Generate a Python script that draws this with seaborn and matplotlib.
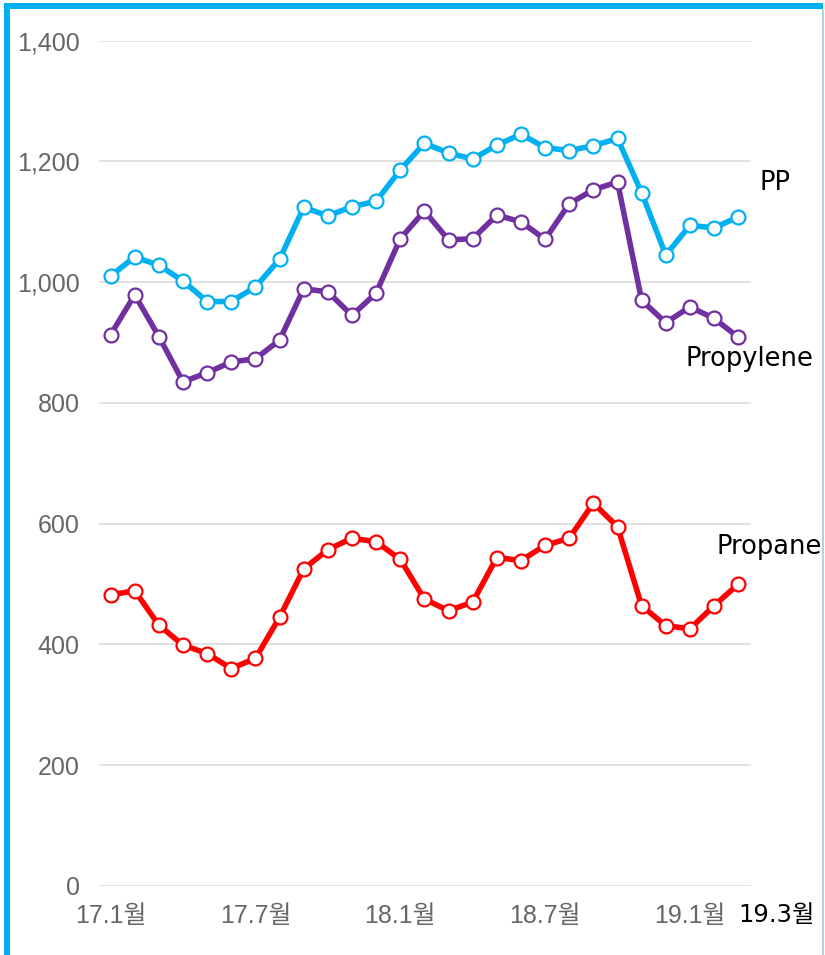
import matplotlib
matplotlib.use("Agg")
import matplotlib.pyplot as plt
import seaborn as sns
import pandas as pd
from matplotlib.patches import Rectangle
from matplotlib.ticker import FuncFormatter
import matplotlib.transforms as mtransforms

months = ["17.1", "17.2", "17.3", "17.4", "17.5", "17.6", "17.7", "17.8", "17.9",
          "17.10", "17.11", "17.12", "18.1", "18.2", "18.3", "18.4", "18.5", "18.6",
          "18.7", "18.8", "18.9", "18.10", "18.11", "18.12", "19.1", "19.2", "19.3"]
pp = [1010, 1042, 1028, 1002, 968, 968, 992, 1038, 1124, 1110, 1125, 1134, 1186,
      1230, 1214, 1204, 1227, 1245, 1223, 1218, 1226, 1238, 1148, 1045, 1094, 1090, 1108]
propylene = [913, 979, 910, 835, 850, 868, 873, 904, 989, 984, 945, 982, 1072,
             1118, 1070, 1072, 1111, 1100, 1071, 1130, 1153, 1166, 970, 933, 959, 940, 909]
propane = [482, 489, 432, 399, 385, 360, 377, 445, 525, 557, 576, 570, 541,
           475, 456, 470, 544, 539, 564, 576, 634, 595, 464, 431, 426, 464, 500]
tick_labels = ["17.1월", "17.7월", "18.1월", "18.7월", "19.1월"]
tick_idx = [0, 6, 12, 18, 24]
last_label = "19.3월"

sns.set_theme(style="white")
plt.rcParams['font.family'] = ['Liberation Sans', 'Noto Sans CJK KR', 'DejaVu Sans']

fig = plt.figure(figsize=(8.25, 9.55), dpi=100)
ax = fig.add_axes([0.12, 0.0723, 0.79, 0.8851])

df = pd.DataFrame({"idx": range(len(months)), "PP": pp,
                   "Propylene": propylene, "Propane": propane})
colors = {"Propane": "#FF0000", "Propylene": "#7030A0", "PP": "#00B0F0"}
for name in ["Propane", "Propylene", "PP"]:
    sns.lineplot(data=df, x="idx", y=name, ax=ax, color=colors[name],
                 linewidth=4.0, marker="o", markersize=10,
                 markerfacecolor="white", markeredgecolor=colors[name],
                 markeredgewidth=1.6, clip_on=False, zorder=3)

ax.set_xlim(-0.48, 26.52)
ax.set_ylim(0, 1400)
ax.set_yticks(range(0, 1401, 200))
ax.yaxis.set_major_formatter(FuncFormatter(lambda v, p: f"{int(v):,}"))
ax.set_xticks(tick_idx)
ax.set_xticklabels(tick_labels)
ax.grid(axis="y", color="#D9D9D9", linewidth=1.1)
ax.set_axisbelow(True)
for s in ax.spines.values():
    s.set_visible(False)
ax.tick_params(axis="both", length=0, labelsize=18, labelcolor="#666666")
ax.tick_params(axis="y", pad=14)
ax.tick_params(axis="x", pad=13)
ax.set_xlabel("")
ax.set_ylabel("")

trans = mtransforms.blended_transform_factory(ax.transData, ax.transAxes)
ax.text(27.6, -0.0346, last_label, transform=trans, ha="center", va="center",
        fontsize=17.5, color="black", family=['DejaVu Sans', 'Noto Sans CJK KR'],
        clip_on=False)

lab_font = dict(fontsize=18.5, color="black", family=['DejaVu Sans'], va="center",
                ha="left", clip_on=False)
ax.text(26.9, 1164, "PP", **lab_font)
ax.text(23.8, 873, "Propylene", **lab_font)
ax.text(25.1, 561, "Propane", **lab_font)

W, H = 825, 955
def px_rect(x0, y0, x1, y1, color):
    fig.add_artist(Rectangle((x0 / W, 1 - y1 / H), (x1 - x0) / W, (y1 - y0) / H,
                             transform=fig.transFigure, facecolor=color,
                             edgecolor="none"))
px_rect(4, 3, 9.5, 955, "#00B0F0")
px_rect(4, 3, 823, 9, "#00B0F0")
px_rect(822, 9, 824, 955, "#9ED8F2")

fig.savefig("out.png", dpi=100)
